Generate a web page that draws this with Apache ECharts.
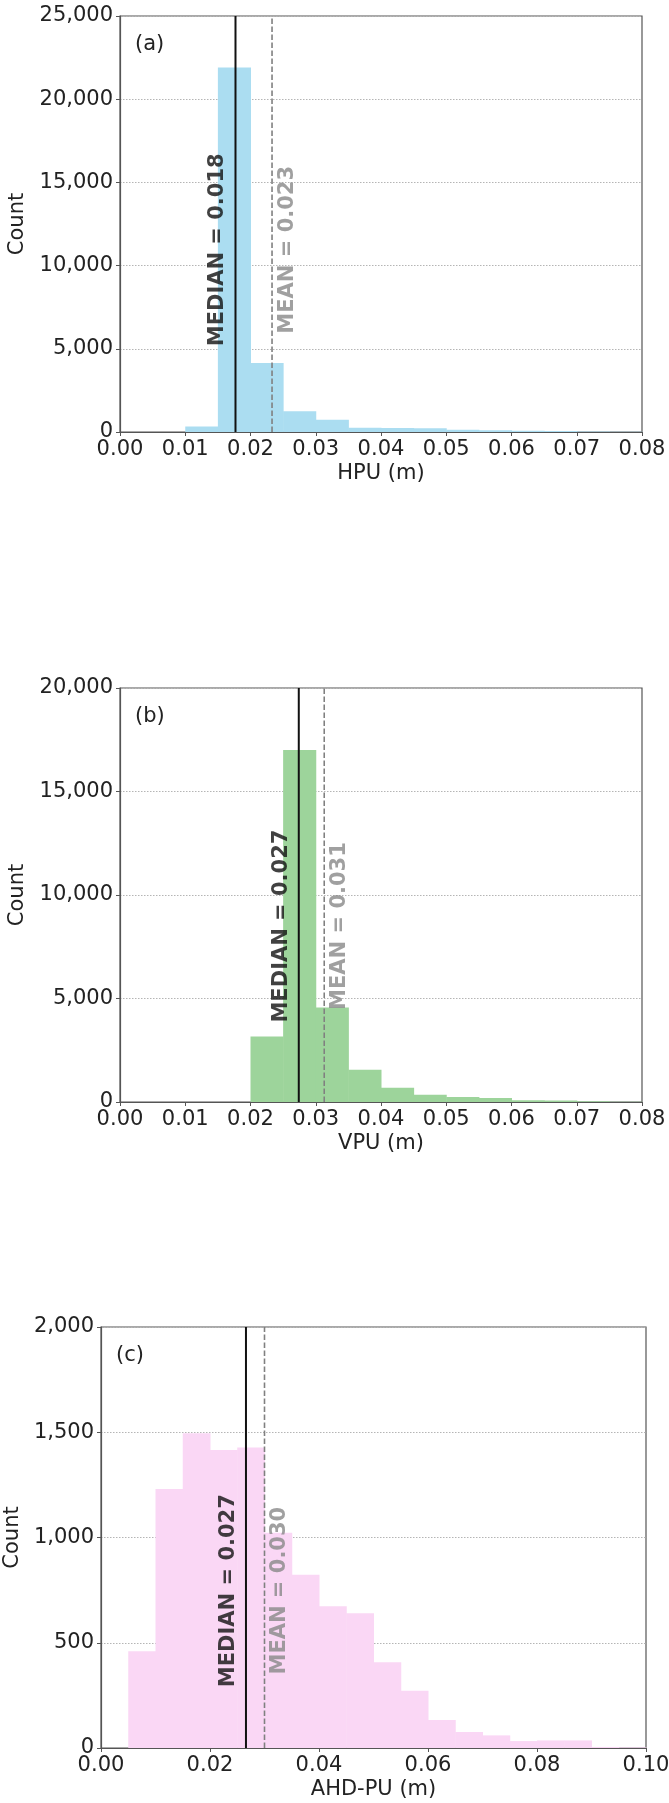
<!DOCTYPE html>
<html><head><meta charset="utf-8">
<script src="https://cdn.jsdelivr.net/npm/echarts@6/dist/echarts.min.js"></script>
<style>html,body{margin:0;padding:0;background:#fff}#c{width:669px;height:1803px}</style>
</head><body><div id="c"></div>
<script>
// ---------- DATA ----------
const binWidth = 0.005;

// (a) HPU histogram
const hpuBinStarts = [0.000,0.005,0.010,0.015,0.020,0.025,0.030,0.035,0.040,0.045,0.050,0.055,0.060,0.065,0.070,0.075];
const hpuCounts    = [0,0,330,21900,4150,1240,730,250,240,225,140,100,80,55,25,10];
const hpuMedian = 0.0177, hpuMedianLabel = 'MEDIAN = 0.018';
const hpuMean   = 0.0233, hpuMeanLabel   = 'MEAN = 0.023';

// (b) VPU histogram
const vpuBinStarts = [0.000,0.005,0.010,0.015,0.020,0.025,0.030,0.035,0.040,0.045,0.050,0.055,0.060,0.065,0.070,0.075];
const vpuCounts    = [0,0,0,0,3160,17000,4560,1560,690,350,240,190,90,75,35,15];
const vpuMedian = 0.0274, vpuMedianLabel = 'MEDIAN = 0.027';
const vpuMean   = 0.0313, vpuMeanLabel   = 'MEAN = 0.031';

// (c) AHD-PU histogram
const ahdBinStarts = [0.000,0.005,0.010,0.015,0.020,0.025,0.030,0.035,0.040,0.045,0.050,0.055,0.060,0.065,0.070,0.075,0.080,0.085,0.090,0.095];
const ahdCounts    = [0,460,1230,1495,1416,1427,1023,823,673,640,407,272,133,76,60,33,36,36,5,3];
const ahdMedian = 0.0266, ahdMedianLabel = 'MEDIAN = 0.027';
const ahdMean   = 0.0300, ahdMeanLabel   = 'MEAN = 0.030';

// axis ticks
const xTicksAB = {min:0, max:0.08, interval:0.01};
const xTicksC  = {min:0, max:0.10, interval:0.02};
const yTicksA  = {min:0, max:25000, interval:5000};
const yTicksB  = {min:0, max:20000, interval:5000};
const yTicksC  = {min:0, max:2000, interval:500};

// ---------- CHART ----------
const FONT = 'DejaVu Sans';
const TXT = '#222';
const panels = [
  {tag:'(a)', xName:'HPU (m)', grid:{left:120, top:16, width:522, height:416}, xt:xTicksAB, yt:yTicksA,
   starts:hpuBinStarts, counts:hpuCounts, color:'#abddf1', median:hpuMedian, mean:hpuMean,
   medianLabel:hpuMedianLabel, meanLabel:hpuMeanLabel, yNameGap:92},
  {tag:'(b)', xName:'VPU (m)', grid:{left:120, top:688, width:522, height:414}, xt:xTicksAB, yt:yTicksB,
   starts:vpuBinStarts, counts:vpuCounts, color:'#9dd49b', median:vpuMedian, mean:vpuMean,
   medianLabel:vpuMedianLabel, meanLabel:vpuMeanLabel, yNameGap:92},
  {tag:'(c)', xName:'AHD-PU (m)', grid:{left:101, top:1327, width:545, height:421}, xt:xTicksC, yt:yTicksC,
   starts:ahdBinStarts, counts:ahdCounts, color:'#fad7f5', median:ahdMedian, mean:ahdMean,
   medianLabel:ahdMedianLabel, meanLabel:ahdMeanLabel, yNameGap:73}
];

const option = {
  animation:false,
  backgroundColor:'#fff',
  title:[], grid:[], xAxis:[], yAxis:[], series:[]
};

panels.forEach((p, i) => {
  option.grid.push(Object.assign({show:true, borderColor:'#555', borderWidth:1.2,
    containLabel:false, outerBoundsMode:'none', backgroundColor:'transparent'}, p.grid));
  option.title.push({text:p.tag, left:p.grid.left + 10, top:p.grid.top + 13,
    textStyle:{fontFamily:FONT, fontSize:21, fontWeight:'normal', color:TXT}});
  option.xAxis.push({type:'value', gridIndex:i, min:p.xt.min, max:p.xt.max, interval:p.xt.interval,
    name:p.xName, nameLocation:'middle', nameGap:31,
    nameTextStyle:{fontFamily:FONT, fontSize:21, color:TXT},
    axisLine:{show:true, onZero:false, lineStyle:{color:'#555', width:1.2}},
    axisTick:{show:true, length:4, lineStyle:{color:'#555', width:1}},
    axisLabel:{fontFamily:FONT, fontSize:21, color:TXT, margin:7, formatter:v => v.toFixed(2)},
    splitLine:{show:false}});
  option.yAxis.push({type:'value', gridIndex:i, min:p.yt.min, max:p.yt.max, interval:p.yt.interval,
    name:'Count', nameLocation:'middle', nameGap:p.yNameGap,
    nameTextStyle:{fontFamily:FONT, fontSize:21, color:TXT},
    axisLine:{show:true, lineStyle:{color:'#555', width:1.2}},
    axisTick:{show:true, length:4, lineStyle:{color:'#555', width:1}},
    axisLabel:{fontFamily:FONT, fontSize:21, color:TXT, margin:7, formatter:v => v.toLocaleString('en-US')},
    splitLine:{show:true, lineStyle:{color:'#b5b5b5', width:1, type:[1.5,1.5]}}});

  const histData = p.starts.map((s, k) => [s, s + binWidth, p.counts[k]]);
  option.series.push({type:'custom', xAxisIndex:i, yAxisIndex:i, data:histData, z:2,
    encode:{x:[0,1], y:2},
    renderItem:(params, api) => {
      const a = api.coord([api.value(0), api.value(2)]);
      const b = api.coord([api.value(1), 0]);
      return {type:'rect', shape:{x:a[0], y:a[1], width:b[0]-a[0]+0.5, height:b[1]-a[1]},
              style:{fill:p.color}};
    }});
  const yTop = p.yt.max;
  option.series.push({type:'line', xAxisIndex:i, yAxisIndex:i, z:5, symbol:'none', silent:true,
    data:[[p.median, 0],[p.median, yTop]], lineStyle:{color:'#111', width:2}});
  option.series.push({type:'line', xAxisIndex:i, yAxisIndex:i, z:5, symbol:'none', silent:true,
    data:[[p.mean, 0],[p.mean, yTop]], lineStyle:{color:'#808080', width:1.6, type:[5.5,2.5]}});
  const labelY = Math.max(...p.counts) / 2;
  option.series.push({type:'scatter', xAxisIndex:i, yAxisIndex:i, z:6, symbolSize:0, silent:true,
    data:[[p.median, labelY]],
    label:{show:true, formatter:p.medianLabel, position:'left', distance:7, rotate:90,
      align:'center', verticalAlign:'bottom', fontFamily:FONT, fontSize:21, fontWeight:'bold', color:'#111'}});
  option.series.push({type:'scatter', xAxisIndex:i, yAxisIndex:i, z:6, symbolSize:0, silent:true,
    data:[[p.mean, labelY]],
    label:{show:true, formatter:p.meanLabel, position:'right', distance:5, rotate:90,
      align:'center', verticalAlign:'top', fontFamily:FONT, fontSize:21, fontWeight:'bold', color:'#888'}});
});

const chart = echarts.init(document.getElementById('c'), null, {width:669, height:1803, renderer:'canvas'});
chart.setOption(option);
</script>
</body></html>
